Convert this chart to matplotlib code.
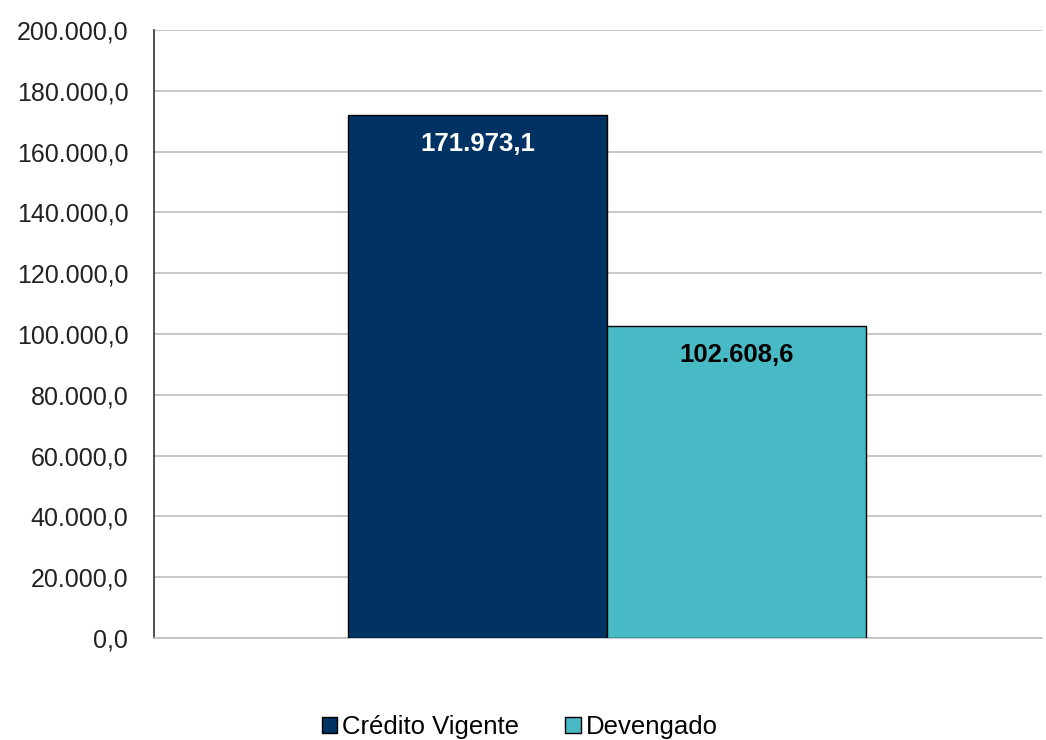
import numpy as np
import matplotlib
import matplotlib.pyplot as plt

matplotlib.use("Agg")
plt.rcParams['font.family'] = ['Liberation Sans', 'DejaVu Sans']

series = ['Crédito Vigente', 'Devengado']
values = [171973.1, 102608.6]
colors = ['#003263', '#47BAC5']
label_colors = ['white', 'black']
yticks = np.arange(0, 200001, 20000)


def fmt_br(v):
    # 171973.1 -> "171.973,1"
    s = f"{v:,.1f}"
    return s.replace(',', 'X').replace('.', ',').replace('X', '.')


fig = plt.figure(figsize=(10.46, 7.40), dpi=100)
ax = fig.add_axes([154 / 1046, 1 - 638 / 740, (1042 - 154) / 1046, (638 - 30) / 740])

w = 1.0
offsets = [-w / 2, w / 2]
for off, val, col, lc, name in zip(offsets, values, colors, label_colors, series):
    ax.bar(off, val, width=w, color=col, edgecolor='black', linewidth=1.0,
           label=name, zorder=3)
    ax.annotate(fmt_br(val), (off, val), xytext=(0, -21), textcoords='offset points',
                ha='center', va='center', fontsize=18.5, fontweight='bold', color=lc,
                zorder=4)

ax.set_xlim(-1.749, 1.68)
ax.set_ylim(0, 200000)
ax.set_yticks(yticks)
ax.set_yticklabels([fmt_br(t) for t in yticks], fontsize=18, color='#222222')
ax.set_xticks([])
ax.grid(True, axis='y', color='#BFBFBF', linewidth=1.2, zorder=0)
ax.tick_params(axis='y', length=0, pad=18.5)

for side in ['top', 'right']:
    ax.spines[side].set_visible(False)
ax.spines['left'].set_color('#333333')
ax.spines['left'].set_linewidth(1.2)
ax.spines['bottom'].set_color('#BFBFBF')
ax.spines['bottom'].set_linewidth(1.2)

fig.legend(loc='center', bbox_to_anchor=(0.497, 1 - 727 / 740), ncol=2, frameon=False,
           fontsize=18.5, handlelength=0.6, handleheight=0.6, handletextpad=0.2,
           columnspacing=1.8)

fig.savefig('out.png', dpi=100)
